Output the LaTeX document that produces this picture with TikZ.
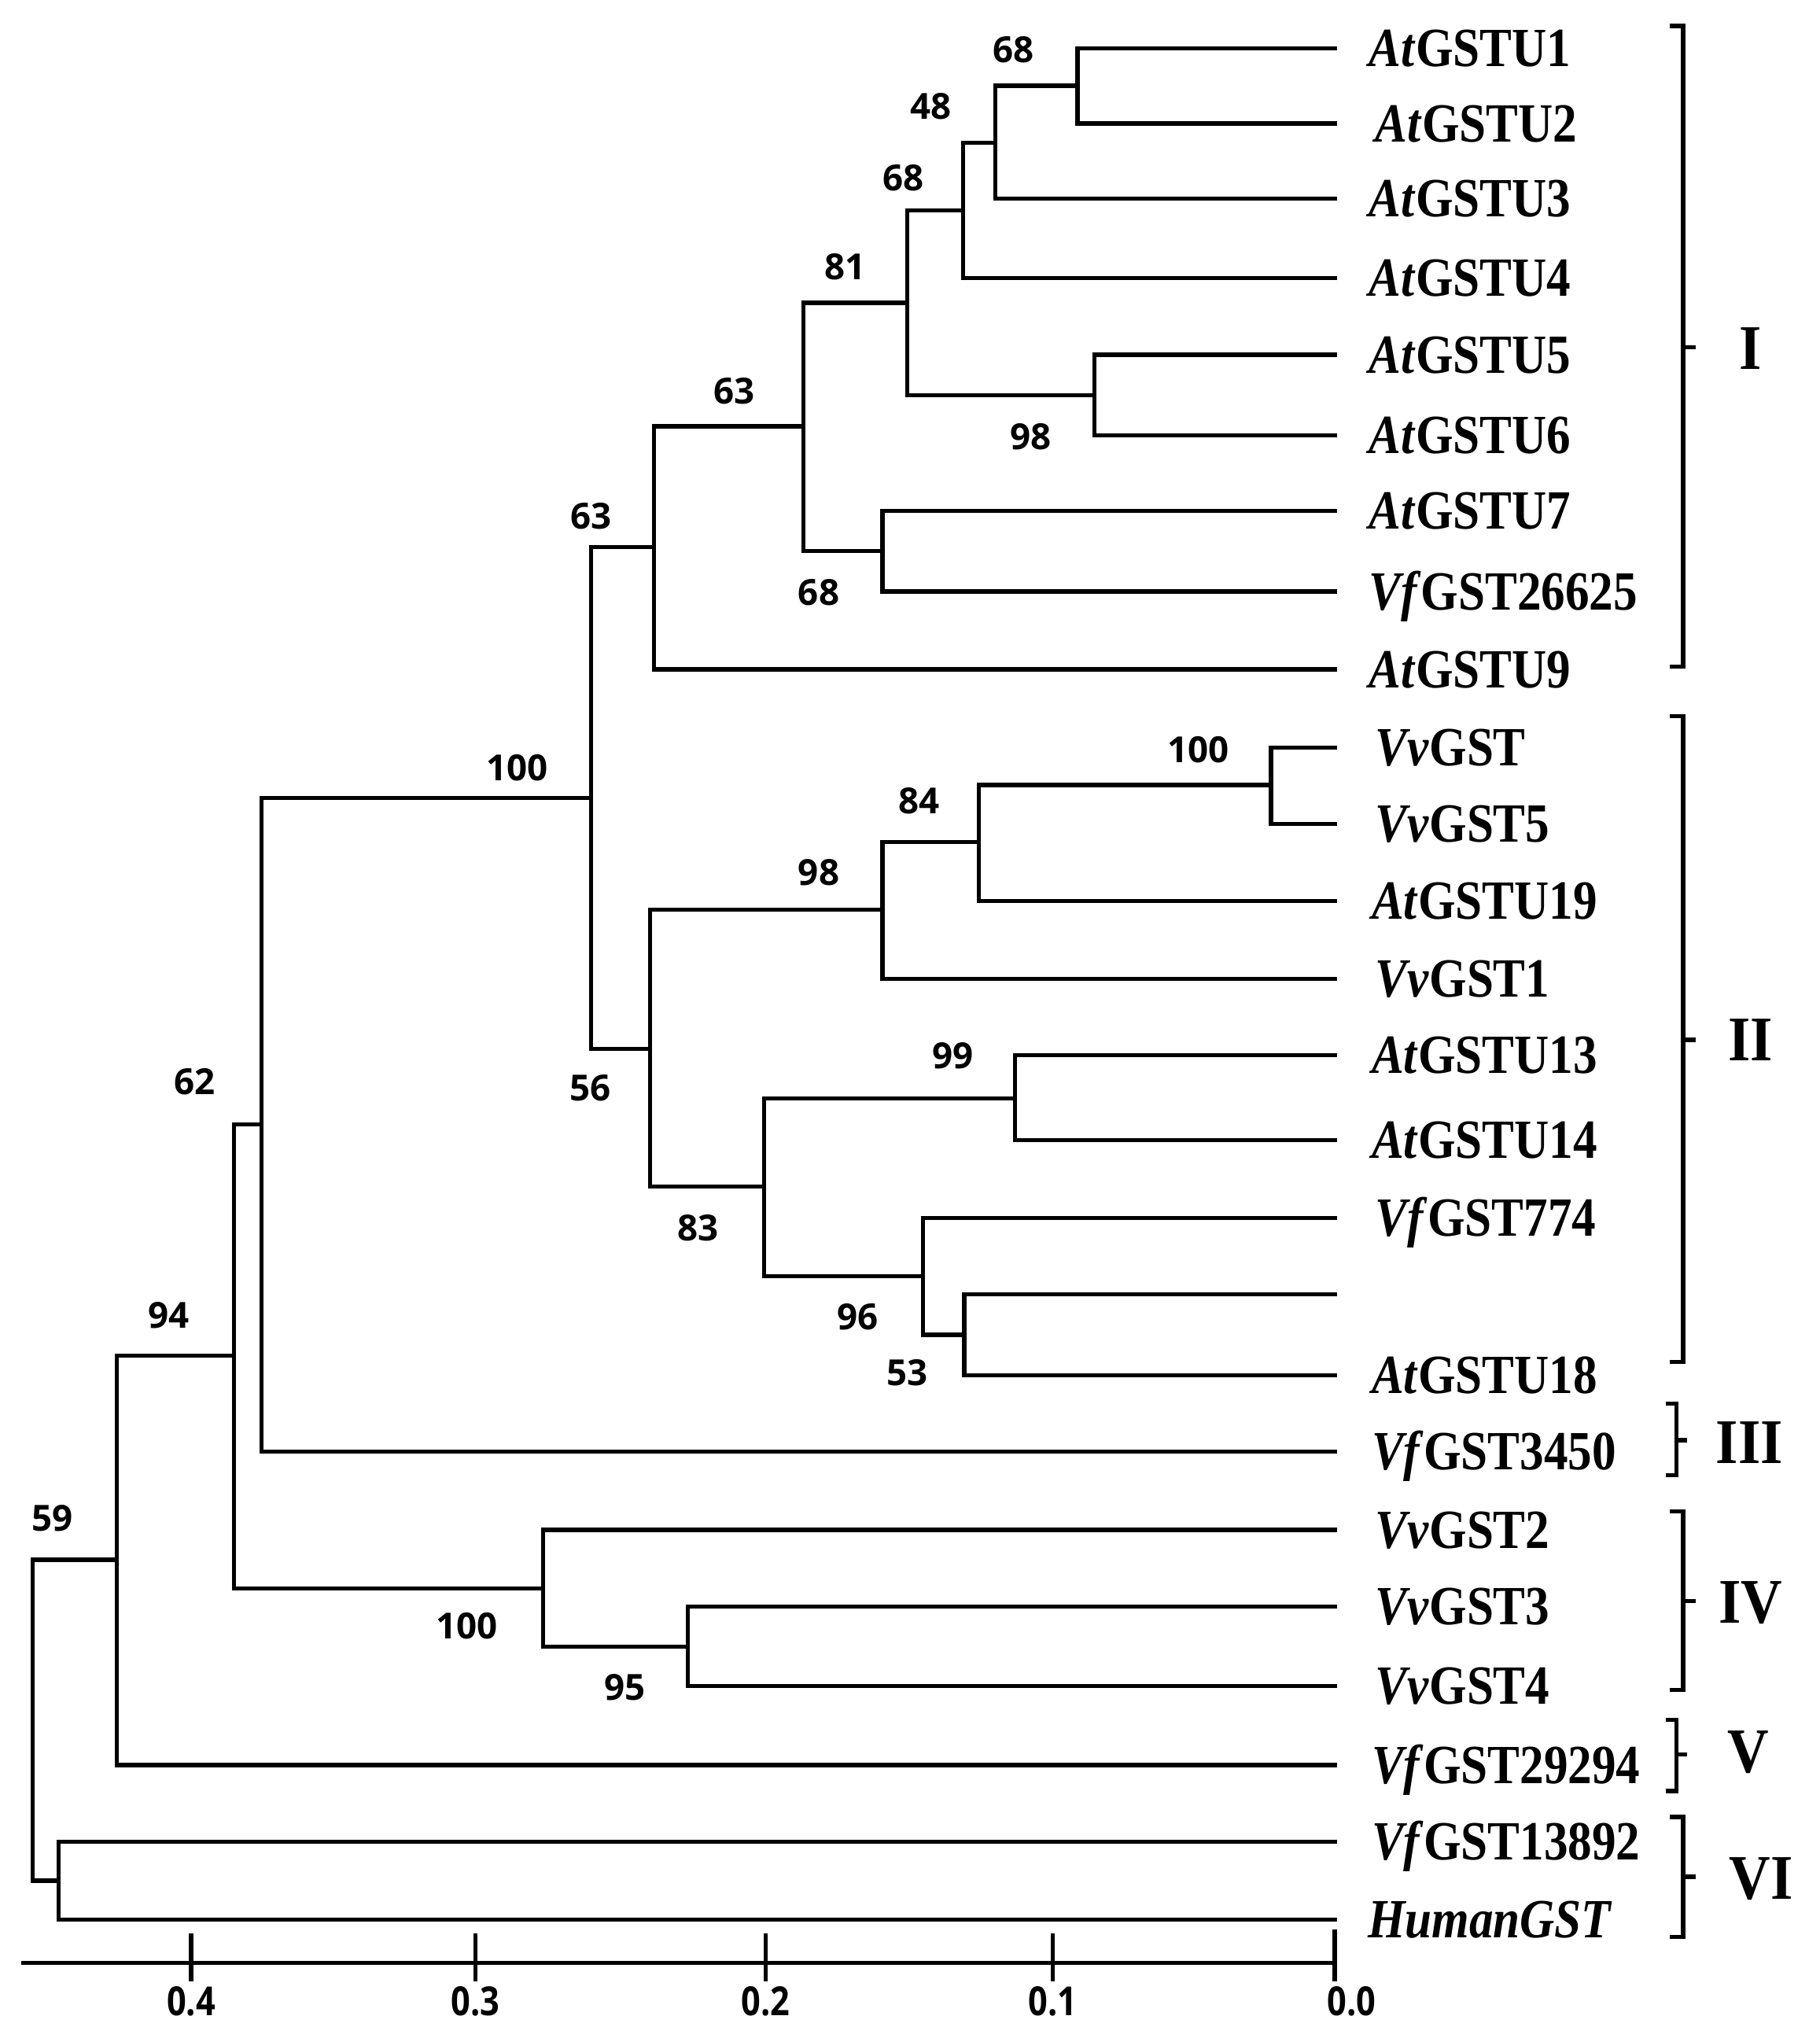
\documentclass[tikz,border=0pt]{standalone}
\usepackage{fontspec}
\setmainfont{Liberation Serif}
\newfontfamily\bsfont{Open Sans}
\newcommand\leafname[2]{\scalebox{0.87}[1]{\textit{#1}GST#2}}
\begin{document}
\begin{tikzpicture}[x=0.16529mm,y=-0.16529mm,
  branch/.style={line width=1.5pt,line cap=rect},
  leaf/.style={anchor=base west,inner sep=0pt,font=\fontsize{20}{24}\selectfont\bfseries},
  boot/.style={inner sep=0pt,font=\bsfont\bfseries\fontsize{13}{15}\selectfont},
  axlab/.style={inner sep=0pt,font=\bsfont\bfseries\fontsize{14.5}{17}\selectfont},
  clade/.style={anchor=base,inner sep=0pt,font=\fontsize{23}{27}\selectfont\bfseries},
  brk/.style={line width=1.5pt}]
\useasboundingbox (0,0) rectangle (1400,1568);
% leaves (tips)
\coordinate (l1) at (1027,37);
\coordinate (l2) at (1027,95);
\coordinate (l3) at (1027,153);
\coordinate (l4) at (1027,214);
\coordinate (l5) at (1027,273);
\coordinate (l6) at (1027,335);
\coordinate (l7) at (1027,393);
\coordinate (l8) at (1027,455);
\coordinate (l9) at (1027,515);
\coordinate (l10) at (1027,575);
\coordinate (l11) at (1027,634);
\coordinate (l12) at (1027,693);
\coordinate (l13) at (1027,753);
\coordinate (l14) at (1027,812);
\coordinate (l15) at (1027,877);
\coordinate (l16) at (1027,937);
\coordinate (l17) at (1027,996);
\coordinate (l18) at (1027,1058);
\coordinate (l19) at (1027,1117);
\coordinate (l20) at (1027,1177);
\coordinate (l21) at (1027,1236);
\coordinate (l22) at (1027,1297);
\coordinate (l23) at (1027,1358);
\coordinate (l24) at (1027,1417);
\coordinate (l25) at (1027,1477);
% internal nodes
\coordinate (a1) at (829,66);
\coordinate (a2) at (766,110);
\coordinate (a3) at (741,162);
\coordinate (a4) at (842,304);
\coordinate (a5) at (698,233);
\coordinate (a6) at (679,424);
\coordinate (a7) at (618,328);
\coordinate (a8) at (503,421);
\coordinate (b1) at (978,604);
\coordinate (b2) at (753,648);
\coordinate (b3) at (679,700);
\coordinate (b4) at (781,845);
\coordinate (b5) at (742,1027);
\coordinate (b6) at (710,982);
\coordinate (b7) at (588,913);
\coordinate (b8) at (500,807);
\coordinate (c1) at (455,614);
\coordinate (c2) at (201,865);
\coordinate (d1) at (529,1267);
\coordinate (d2) at (418,1222);
\coordinate (c3) at (180,1043);
\coordinate (c4) at (90,1200);
\coordinate (e1) at (45,1447);
\coordinate (root) at (25,1323);
% branches
\begin{scope}[branch]
\draw (a1) |- (l1); \draw (a1) |- (l2);
\draw (a2) |- (a1); \draw (a2) |- (l3);
\draw (a3) |- (a2); \draw (a3) |- (l4);
\draw (a4) |- (l5); \draw (a4) |- (l6);
\draw (a5) |- (a3); \draw (a5) |- (a4);
\draw (a6) |- (l7); \draw (a6) |- (l8);
\draw (a7) |- (a5); \draw (a7) |- (a6);
\draw (a8) |- (a7); \draw (a8) |- (l9);
\draw (b1) |- (l10); \draw (b1) |- (l11);
\draw (b2) |- (b1); \draw (b2) |- (l12);
\draw (b3) |- (b2); \draw (b3) |- (l13);
\draw (b4) |- (l14); \draw (b4) |- (l15);
\draw (b5) |- (l17); \draw (b5) |- (l18);
\draw (b6) |- (l16); \draw (b6) |- (b5);
\draw (b7) |- (b4); \draw (b7) |- (b6);
\draw (b8) |- (b3); \draw (b8) |- (b7);
\draw (c1) |- (a8); \draw (c1) |- (b8);
\draw (c2) |- (c1); \draw (c2) |- (l19);
\draw (d1) |- (l21); \draw (d1) |- (l22);
\draw (d2) |- (l20); \draw (d2) |- (d1);
\draw (c3) |- (c2); \draw (c3) |- (d2);
\draw (c4) |- (c3); \draw (c4) |- (l23);
\draw (e1) |- (l24); \draw (e1) |- (l25);
\draw (root) |- (c4); \draw (root) |- (e1);
\end{scope}
% leaf labels
\node[leaf] (t1) at (1053,51) {\leafname{At}{U1}};
\node[leaf] (t2) at (1058,109) {\leafname{At}{U2}};
\node[leaf] (t3) at (1053,167) {\leafname{At}{U3}};
\node[leaf] (t4) at (1053,228) {\leafname{At}{U4}};
\node[leaf] (t5) at (1053,287) {\leafname{At}{U5}};
\node[leaf] (t6) at (1053,349) {\leafname{At}{U6}};
\node[leaf] (t7) at (1053,407) {\leafname{At}{U7}};
\node[leaf] (t8) at (1053,469) {\leafname{Vf}{26625}};
\node[leaf] (t9) at (1053,529) {\leafname{At}{U9}};
\node[leaf] (t10) at (1058,589) {\leafname{Vv}{}};
\node[leaf] (t11) at (1058,648) {\leafname{Vv}{5}};
\node[leaf] (t12) at (1055,707) {\leafname{At}{U19}};
\node[leaf] (t13) at (1058,767) {\leafname{Vv}{1}};
\node[leaf] (t14) at (1055,826) {\leafname{At}{U13}};
\node[leaf] (t15) at (1055,891) {\leafname{At}{U14}};
\node[leaf] (t16) at (1058,951) {\leafname{Vf}{774}};
\node[leaf] (t18) at (1055,1072) {\leafname{At}{U18}};
\node[leaf] (t19) at (1055,1131) {\leafname{Vf}{3450}};
\node[leaf] (t20) at (1058,1191) {\leafname{Vv}{2}};
\node[leaf] (t21) at (1058,1250) {\leafname{Vv}{3}};
\node[leaf] (t22) at (1058,1311) {\leafname{Vv}{4}};
\node[leaf] (t23) at (1055,1372) {\leafname{Vf}{29294}};
\node[leaf] (t24) at (1055,1431) {\leafname{Vf}{13892}};
\node[leaf] (t25) at (1052,1491) {\scalebox{0.87}[1]{\textit{HumanGST}}};
% bootstrap values
\node[boot] (s1) at (780,38) {68};
\node[boot] (s2) at (716,82) {48};
\node[boot] (s3) at (695,137) {68};
\node[boot] (s4) at (650,205) {81};
\node[boot] (s5) at (793,336) {98};
\node[boot] (s6) at (565,301) {63};
\node[boot] (s7) at (630,456) {68};
\node[boot] (s8) at (455,397) {63};
\node[boot] (s9) at (398,591) {100};
\node[boot] (s10) at (922,577) {100};
\node[boot] (s11) at (707,616) {84};
\node[boot] (s12) at (630,671) {98};
\node[boot] (s13) at (733,812) {99};
\node[boot] (s14) at (454,837) {56};
\node[boot] (s15) at (537,945) {83};
\node[boot] (s16) at (660,1013) {96};
\node[boot] (s17) at (698,1056) {53};
\node[boot] (s18) at (150,832) {62};
\node[boot] (s19) at (130,1012) {94};
\node[boot] (s20) at (359,1251) {100};
\node[boot] (s21) at (481,1298) {95};
\node[boot] (s22) at (40,1168) {59};
% clade brackets
\begin{scope}[brk]
\draw (1285,20) -- (1295,20) -- (1295,513) -- (1285,513);
\draw (1295,267) -- (1305,267);
\draw (1285,551) -- (1295,551) -- (1295,1048) -- (1285,1048);
\draw (1295,800) -- (1305,800);
\draw (1282,1080) -- (1290,1080) -- (1290,1135) -- (1282,1135);
\draw (1290,1108) -- (1298,1108);
\draw (1285,1163) -- (1295,1163) -- (1295,1300) -- (1285,1300);
\draw (1295,1232) -- (1305,1232);
\draw (1282,1323) -- (1290,1323) -- (1290,1378) -- (1282,1378);
\draw (1290,1350) -- (1298,1350);
\draw (1285,1398) -- (1295,1398) -- (1295,1490) -- (1285,1490);
\draw (1295,1444) -- (1305,1444);
\end{scope}
\node[clade] (k1) at (1347,284) {\scalebox{0.9}[1]{I}};
\node[clade] (k2) at (1347,816) {\scalebox{0.9}[1]{II}};
\node[clade] (k3) at (1346,1126) {\scalebox{0.9}[1]{III}};
\node[clade] (k4) at (1347,1249) {\scalebox{0.9}[1]{IV}};
\node[clade] (k5) at (1345,1364) {\scalebox{0.9}[1]{V}};
\node[clade] (k6) at (1355,1461) {\scalebox{0.9}[1]{VI}};
% scale axis
\coordinate (ax0) at (18,1510);
\coordinate (ax1) at (1027,1510);
\draw[branch] (ax0) -- (ax1);
\foreach \x/\lab in {147/0.4,366/0.3,589/0.2,810/0.1} {
  \draw[branch] (\x,1489) -- (\x,1523);
  \node[axlab] at (\x,1540) {\scalebox{0.85}[1]{\lab}};
}
\draw[branch] (1027,1486) -- (1027,1523);
\node[axlab] (a00) at (1040,1540) {\scalebox{0.85}[1]{0.0}};
\end{tikzpicture}
\end{document}
